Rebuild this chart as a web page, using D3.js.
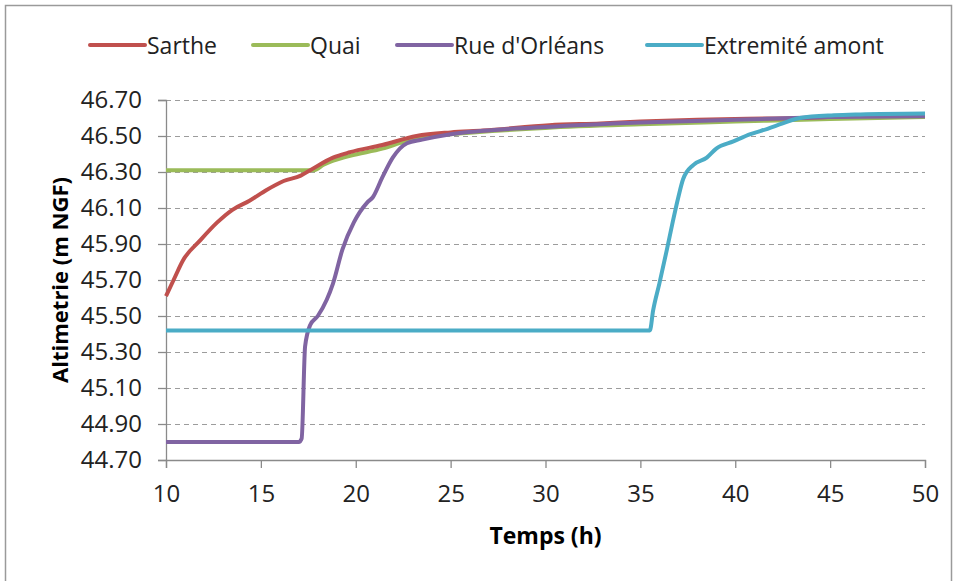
<!DOCTYPE html>
<html>
<head>
<meta charset="utf-8">
<script src="https://cdn.jsdelivr.net/npm/d3@7"></script>
<style>
  body { margin: 0; background: #fff; }
  svg { display: block; }
</style>
</head>
<body>
<div id="chart"></div>
<script>
// series names and colours (Excel palette)
var seriesNames = ["Sarthe", "Quai", "Rue d'Orléans", "Extremité amont"];
var seriesColors = ["#C0504D", "#9BBB59", "#8064A2", "#4BACC6"];

// values: [time (h), altimetry (m NGF)]
var sartheT = [10, 10.4, 10.9, 11.8, 12.7, 13.5, 14.4, 15.3, 16.2, 17.1, 17.6, 18.8, 19.7, 21.4, 23.2, 25, 26.7, 30.2, 32.9, 35, 38, 40, 43.4, 46, 50];
var sartheV = [45.61, 45.70, 45.81, 45.92, 46.02, 46.09, 46.14, 46.20, 46.25, 46.28, 46.31, 46.38, 46.41, 46.45, 46.50, 46.52, 46.53, 46.56, 46.57, 46.58, 46.59, 46.595, 46.60, 46.61, 46.615];

var quaiT = [10, 14, 17.8, 18.3, 19.7, 21.4, 22.3, 23.2, 25, 30, 35, 40, 45, 50];
var quaiV = [46.31, 46.31, 46.31, 46.34, 46.39, 46.43, 46.46, 46.49, 46.51, 46.545, 46.565, 46.58, 46.595, 46.605];

var rueT = [10, 17.0, 17.15, 17.33, 17.6, 18.0, 18.47, 18.8, 19.3, 19.9, 20.6, 20.9, 21.4, 21.95, 22.7, 23.5, 25, 30, 35, 40, 45, 50];
var rueV = [44.80, 44.80, 44.82, 45.33, 45.45, 45.50, 45.59, 45.68, 45.87, 46.02, 46.13, 46.16, 46.27, 46.38, 46.46, 46.48, 46.51, 46.55, 46.575, 46.59, 46.605, 46.61];

var extT = [10, 35.5, 35.67, 36.0, 36.4, 36.7, 37.0, 37.25, 37.8, 38.5, 39.0, 39.9, 40.8, 41.7, 42.5, 43.4, 45.2, 46.6, 50];
var extV = [45.42, 45.42, 45.53, 45.68, 45.87, 46.02, 46.16, 46.26, 46.34, 46.38, 46.43, 46.47, 46.51, 46.54, 46.57, 46.60, 46.615, 46.62, 46.625];

var xTicks = [10, 15, 20, 25, 30, 35, 40, 45, 50];
var yTicks = [44.7, 44.9, 45.1, 45.3, 45.5, 45.7, 45.9, 46.1, 46.3, 46.5, 46.7];

var xTitle = "Temps (h)";
var yTitle = "Altimetrie (m NGF)";

var fontFamily = "'Open Sans', 'Noto Sans', sans-serif";

var W = 957, H = 581;
var margin = {top: 100, right: 32, bottom: 121, left: 166},
    width = W - margin.left - margin.right,
    height = H - margin.top - margin.bottom;

var svg = d3.select("#chart")
  .append("svg")
    .attr("width", W)
    .attr("height", H);

// outer frame
svg.append("rect")
  .attr("x", 5.5).attr("y", 5.5)
  .attr("width", W - 11).attr("height", H)
  .attr("fill", "#fff")
  .attr("stroke", "#9a9a9a")
  .attr("stroke-width", 1.5);

var g = svg.append("g")
  .attr("transform", "translate(" + margin.left + "," + margin.top + ")");

var x = d3.scaleLinear().domain([10, 50]).range([0, width]);
var y = d3.scaleLinear().domain([44.7, 46.7]).range([height, 0]);

// gridlines
g.append("g")
  .selectAll("line")
  .data(yTicks.slice(1))
  .enter()
  .append("line")
    .attr("x1", 0)
    .attr("x2", width)
    .attr("y1", function(d) { return Math.round(y(d)) + 0.5; })
    .attr("y2", function(d) { return Math.round(y(d)) + 0.5; })
    .attr("stroke", "#9c9c9c")
    .attr("stroke-width", 1.2)
    .style("stroke-dasharray", "5,4");

// axes
var yAxis = g.append("g")
  .call(d3.axisLeft(y).tickValues(yTicks).tickFormat(d3.format(".2f")).tickSize(8).tickPadding(16));
var xAxis = g.append("g")
  .attr("transform", "translate(0," + height + ")")
  .call(d3.axisBottom(x).tickValues(xTicks).tickSize(8).tickPadding(17));

[xAxis, yAxis].forEach(function(a) {
  a.selectAll("path, line").attr("stroke", "#8a8a8a").attr("stroke-width", 1.3);
  a.selectAll("text")
    .attr("fill", "#222")
    .attr("font-family", fontFamily)
    .style("font-size", "24px");
});

// lines
var line = d3.line()
  .x(function(d) { return x(d[0]); })
  .y(function(d) { return y(d[1]); })
  .curve(d3.curveMonotoneX);

var allSeries = [
  d3.zip(sartheT, sartheV),
  d3.zip(quaiT, quaiV),
  d3.zip(rueT, rueV),
  d3.zip(extT, extV)
];

// green first so red sits on top once they merge
var drawOrder = [1, 0, 2, 3];
drawOrder.forEach(function(i) {
  g.append("path")
    .datum(allSeries[i])
    .attr("fill", "none")
    .attr("stroke", seriesColors[i])
    .attr("stroke-width", 4)
    .attr("stroke-linejoin", "round")
    .attr("d", line);
});

// axis titles
svg.append("text")
  .attr("x", margin.left + width / 2)
  .attr("y", 544)
  .attr("text-anchor", "middle")
  .attr("font-family", fontFamily)
  .attr("font-weight", 700)
  .style("font-size", "23px")
  .text(xTitle);

svg.append("text")
  .attr("transform", "translate(68," + (margin.top + height / 2) + ") rotate(-90)")
  .attr("text-anchor", "middle")
  .attr("font-family", fontFamily)
  .attr("font-weight", 700)
  .style("font-size", "22px")
  .text(yTitle);

// legend
var legendX = [90, 253, 397, 647];
var legend = svg.append("g");
legend.selectAll("line")
  .data(seriesNames)
  .enter()
  .append("line")
    .attr("x1", function(d, i) { return legendX[i]; })
    .attr("x2", function(d, i) { return legendX[i] + 55; })
    .attr("y1", 45)
    .attr("y2", 45)
    .attr("stroke", function(d, i) { return seriesColors[i]; })
    .attr("stroke-width", 4)
    .attr("stroke-linecap", "round");
legend.selectAll("text")
  .data(seriesNames)
  .enter()
  .append("text")
    .attr("x", function(d, i) { return legendX[i] + 57; })
    .attr("y", 46)
    .attr("dy", "0.35em")
    .attr("font-family", fontFamily)
    .attr("fill", "#222")
    .style("font-size", "23px")
    .text(function(d) { return d; });
</script>
</body>
</html>
